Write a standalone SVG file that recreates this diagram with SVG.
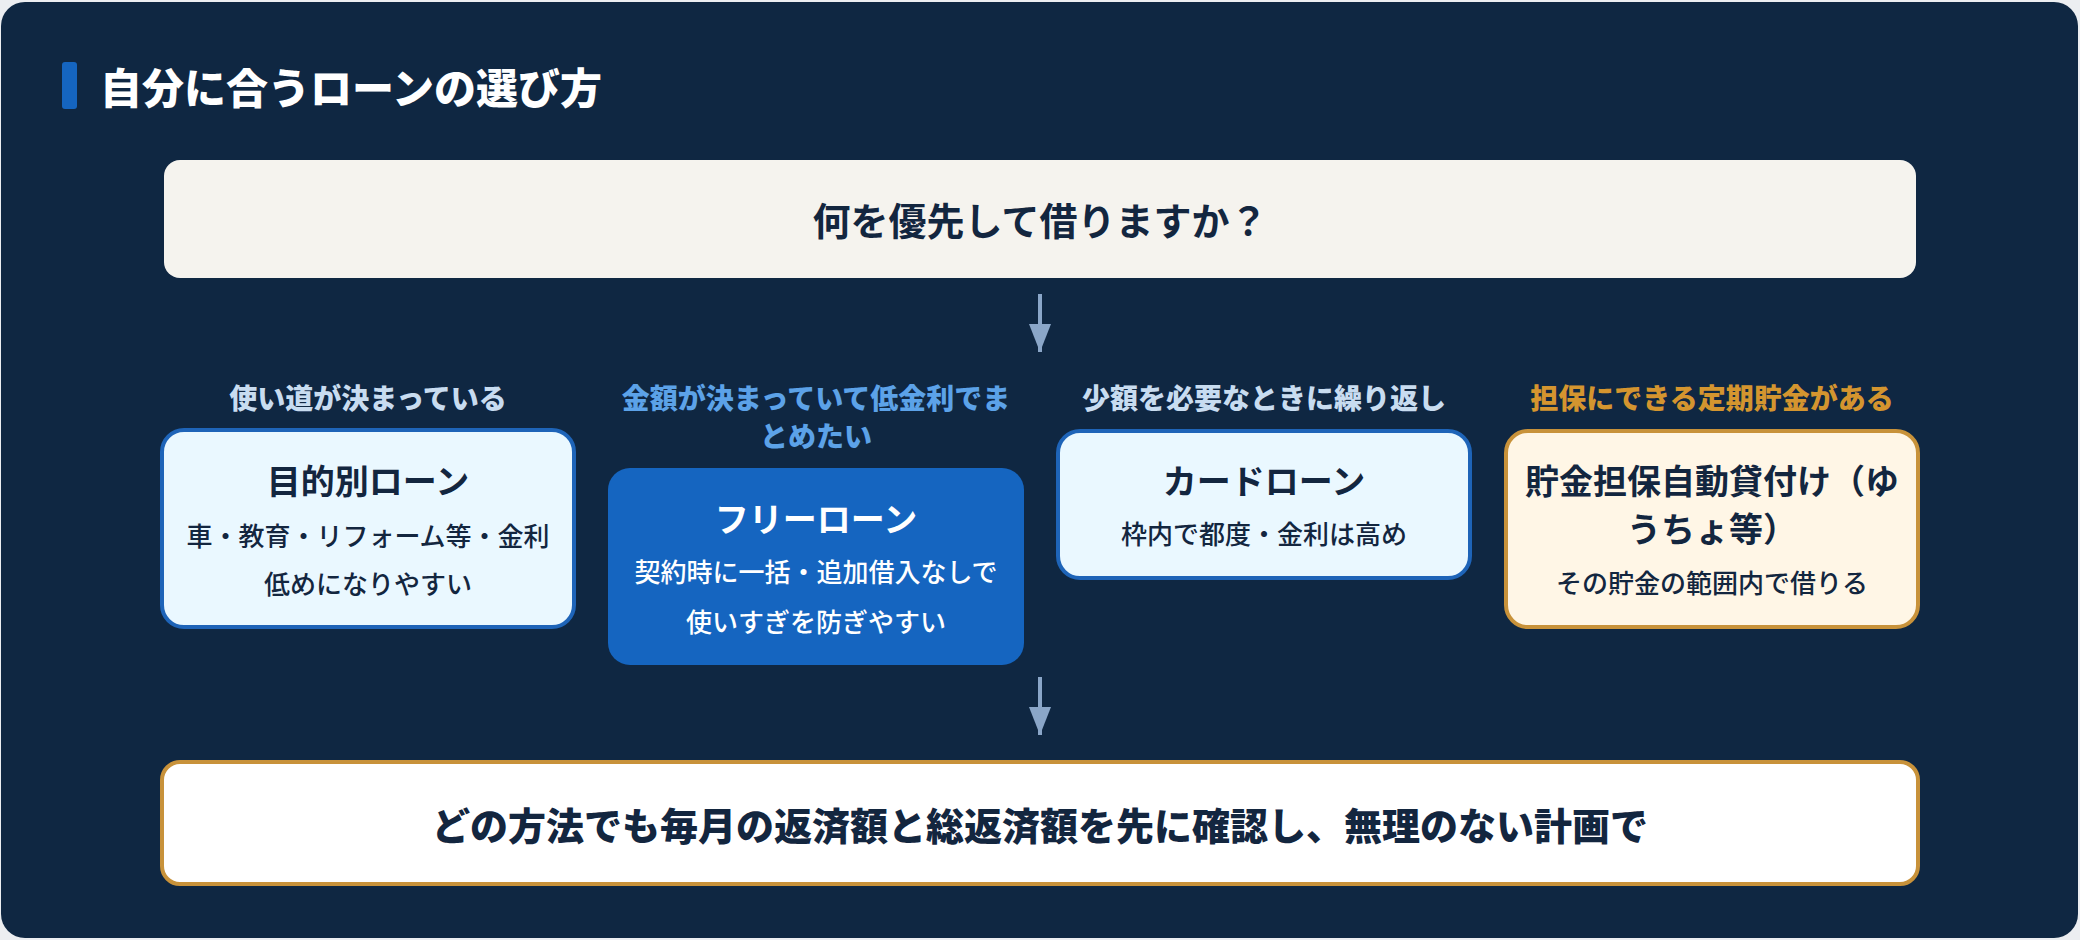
<svg xmlns="http://www.w3.org/2000/svg" width="2080" height="940" viewBox="0 0 2080 940">
<defs>
<style>
text{font-family:"Noto Sans CJK JP","Noto Sans",sans-serif;text-anchor:middle}
.lbl{font-size:28px;font-weight:800}
.ttl{font-size:34px;font-weight:700;fill:#13263f}
.dsc{font-size:26px;font-weight:500;fill:#13263f}
.nodeL{fill:#eaf8ff;stroke:#1e64b8;stroke-width:4}
.nodeG{fill:#fff6e6;stroke:#c8923a;stroke-width:4}
.conn{stroke:#8aa6c8;stroke-width:4;fill:none}
</style>
<marker id="ah" viewBox="0 0 28 22" refX="28" refY="11" markerWidth="28" markerHeight="22" markerUnits="userSpaceOnUse" orient="auto">
<path d="M0,0 L28,11 L0,22 Z" fill="#8aa6c8"/>
</marker>
</defs>
<rect x="0" y="0" width="2080" height="940" fill="#eceef1"/>
<rect x="1" y="2" width="2077" height="936" rx="24" fill="#0f2742"/>
<g id="title">
<rect x="62" y="62" width="15" height="47" rx="3" fill="#1565c0"/>
<text x="100" y="104" style="text-anchor:start;font-size:42px;font-weight:900;fill:#ffffff">自分に合うローンの選び方</text>
</g>
<g id="question">
<rect x="164" y="160" width="1752" height="118" rx="16" fill="#f5f3ee"/>
<text x="1040" y="235" style="font-size:38px;font-weight:700;fill:#13263f">何を優先して借りますか？</text>
</g>
<g id="connectors">
<line class="conn" x1="1040" y1="294" x2="1040" y2="352" marker-end="url(#ah)"/>
<line class="conn" x1="1040" y1="677" x2="1040" y2="735" marker-end="url(#ah)"/>
</g>
<g id="node-purpose">
<text class="lbl" x="368" y="409" fill="#c8dcf0">使い道が決まっている</text>
<rect class="nodeL" x="162" y="430" width="412" height="197" rx="22"/>
<text class="ttl" x="368" y="494">目的別ローン</text>
<text class="dsc" x="368" y="546">車・教育・リフォーム等・金利</text>
<text class="dsc" x="368" y="594">低めになりやすい</text>
</g>
<g id="node-free">
<text class="lbl" x="816" y="409" fill="#5ca2e8">金額が決まっていて低金利でま</text>
<text class="lbl" x="816" y="447" fill="#5ca2e8">とめたい</text>
<rect x="608" y="468" width="416" height="197" rx="22" fill="#1565c0"/>
<text class="ttl" x="816" y="532" style="fill:#ffffff">フリーローン</text>
<text class="dsc" x="816" y="582" style="fill:#ffffff">契約時に一括・追加借入なしで</text>
<text class="dsc" x="816" y="632" style="fill:#ffffff">使いすぎを防ぎやすい</text>
</g>
<g id="node-card">
<text class="lbl" x="1264" y="409" fill="#c8dcf0">少額を必要なときに繰り返し</text>
<rect class="nodeL" x="1058" y="431" width="412" height="147" rx="22"/>
<text class="ttl" x="1264" y="494">カードローン</text>
<text class="dsc" x="1264" y="544">枠内で都度・金利は高め</text>
</g>
<g id="node-savings">
<text class="lbl" x="1712" y="409" fill="#d4952f">担保にできる定期貯金がある</text>
<rect class="nodeG" x="1506" y="431" width="412" height="196" rx="22"/>
<text class="ttl" x="1712" y="494">貯金担保自動貸付け（ゆ</text>
<text class="ttl" x="1712" y="542">うちょ等）</text>
<text class="dsc" x="1712" y="593">その貯金の範囲内で借りる</text>
</g>
<g id="conclusion">
<rect x="162" y="762" width="1756" height="122" rx="18" fill="#ffffff" stroke="#c8923a" stroke-width="4"/>
<text x="1040" y="840" style="font-size:38px;font-weight:800;fill:#13263f">どの方法でも毎月の返済額と総返済額を先に確認し、無理のない計画で</text>
</g>
</svg>
